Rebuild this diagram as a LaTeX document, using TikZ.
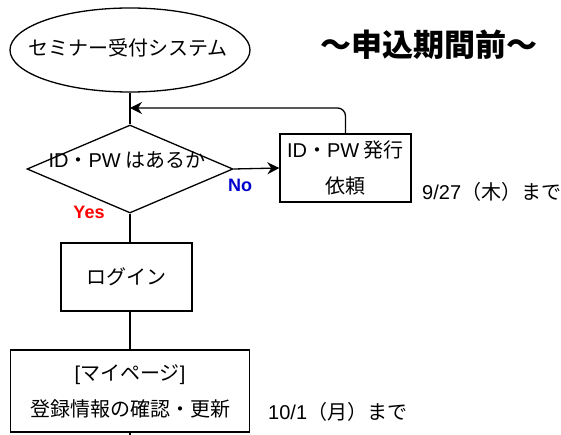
\documentclass[tikz,border=0pt]{standalone}
\usepackage{fontspec}
\setmainfont{Noto Sans CJK JP}
\newfontfamily\arialfont{Liberation Sans}
\newcommand{\latn}[1]{{\arialfont #1}}
\usetikzlibrary{shapes.geometric,arrows.meta}
\definecolor{yesred}{RGB}{255,0,0}
\definecolor{noblue}{RGB}{0,0,204}
\tikzset{
  flowline/.style={line width=1.3pt},
  procbox/.style={draw, flowline, rectangle, minimum width=131pt, minimum height=68pt,
    inner sep=0pt, align=center, font=\fontsize{20}{36}\selectfont},
  plaintext/.style={font=\fontsize{20}{24}\selectfont, inner sep=0pt},
  answer/.style={font=\arialfont\bfseries\fontsize{18}{18}\selectfont, inner sep=0pt},
}
\begin{document}
\begin{tikzpicture}[x=1pt, y=-1pt]
    \def \linex {130}    % x of the main flow line
    \def \loopy {108}    % y of the return line
    \useasboundingbox (0,0) rectangle (561,435);
    % start
    \node[draw, ellipse, flowline, minimum width=240pt, minimum height=84pt, inner sep=0pt]
        (start) at (\linex,50) {};
    \node[plaintext] (starttext) at (128,48) {セミナー受付システム};
    % title
    \node[font=\bfseries\fontsize{31}{31}\selectfont, inner sep=0pt] (title) at (429,45) {～申込期間前～};
    % decision
    \node[draw, diamond, flowline, minimum width=206pt, minimum height=88pt, inner sep=0pt]
        (check) at (\linex,169) {};
    \node[plaintext] (checktext) at (127,160) {\latn{ID}・\latn{PW} はあるか};
    \node[answer, text=noblue] (no) at (240,185) {No};
    \node[answer, text=yesred] (yes) at (89,212) {Yes};
    % request box
    \node[procbox] (issue) at (345.5,168) {\latn{ID}・\latn{PW} 発行\\依頼};
    \node[plaintext, anchor=west] (issuedate) at (422,192) {\latn{9/27}（木）まで};
    % login
    \node[procbox] (login) at (126.5,277) {ログイン};
    % my page
    \node[procbox, minimum width=239pt, minimum height=82pt] (mypage) at (\linex,391)
        {\latn{[}マイページ\latn{]}\\登録情報の確認・更新};
    \node[plaintext, anchor=west] (mypagedate) at (268,412) {\latn{10/1}（月）まで};
    % connectors
    \coordinate (join) at (\linex,\loopy);
    \coordinate (bottom) at (\linex,435);
    \draw[flowline] (start.south) -- (check.north);
    \draw[flowline, -{Stealth[length=12pt,width=12pt]}] (check.east) -- (issue.west);
    \draw[flowline, rounded corners=8pt, -{Stealth[length=12pt,width=12pt]}]
        (issue.north) |- (join);
    \draw[flowline] (check.south) -- (check.south |- login.north);
    \draw[flowline] (check.south |- login.south) -- (mypage.north);
    \draw[flowline] (mypage.south) -- (bottom);
\end{tikzpicture}
\end{document}
